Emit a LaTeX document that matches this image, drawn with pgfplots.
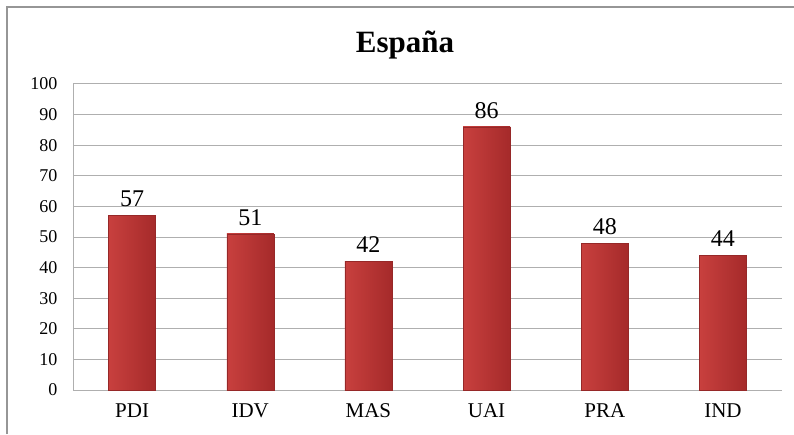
\documentclass[border=0pt]{standalone}
\usepackage{pgfplots}
\pgfplotsset{compat=1.18}
\usepackage{fontspec}
\setmainfont{Liberation Serif}
\definecolor{framegray}{RGB}{150,150,150}
\definecolor{gridgray}{RGB}{175,175,175}
\definecolor{barmid}{RGB}{226,86,84}
\definecolor{barleft}{RGB}{200,64,62}
\definecolor{barright}{RGB}{165,42,42}
\definecolor{baredge}{RGB}{150,40,40}
\begin{document}
\begin{tikzpicture}[x=1pt,y=1pt]
\useasboundingbox (0,0) rectangle (794,434);
\draw[framegray, line width=2pt] (7,0) -- (7,427) -- (794,427);
\node[font=\fontsize{31}{36}\selectfont\bfseries] at (405,389) {España};
\begin{axis}[
  at={(73pt,44pt)}, anchor=south west,
  scale only axis, width=709pt, height=306pt,
  xmin=-0.5, xmax=5.5, ymin=0, ymax=100,
  axis x line*=bottom, axis y line*=left,
  axis line style={gridgray, line width=1pt},
  xtick={0,1,2,3,4,5},
  xticklabels={PDI,IDV,MAS,UAI,PRA,IND},
  ytick={0,10,...,100},
  ymajorgrids, grid style={gridgray, line width=1pt},
  major tick length=0pt,
  /pgf/number format/assume math mode=true,
  xticklabel style={font=\fontsize{21}{24}\selectfont, yshift=-10pt},
  yticklabel style={font=\fontsize{18}{21}\selectfont, xshift=-12pt},
  mybar/.style={ybar, bar width=47pt, bar shift=0pt,
    draw=baredge, line width=0.5pt, mark=none,
    left color=barleft, middle color=barmid, right color=barright},
  nodes near coords,
  every node near coord/.append style={font=\fontsize{24}{27}\selectfont, text=black, yshift=5pt},
  clip=false,
]
\addplot[mybar] coordinates {(0,57)};
\addplot[mybar] coordinates {(1,51)};
\addplot[mybar] coordinates {(2,42)};
\addplot[mybar] coordinates {(3,86)};
\addplot[mybar] coordinates {(4,48)};
\addplot[mybar] coordinates {(5,44)};
\end{axis}
\end{tikzpicture}
\end{document}
